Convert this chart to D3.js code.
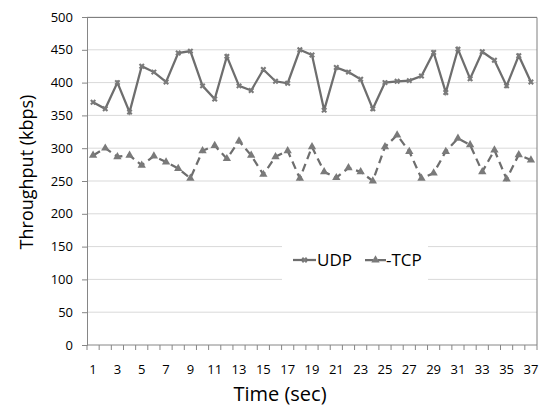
<!DOCTYPE html>
<html>
<head>
<meta charset="UTF-8">
<script src="https://d3js.org/d3.v7.min.js"></script>
<style>
  body { margin: 0; background: #fff; }
  text { font-family: "Open Sans", "Liberation Sans", sans-serif; fill: #000; }
</style>
</head>
<body>
<div id="chart"></div>
<script>
// data
const times = d3.range(1, 38);
const udp = [370, 360, 400, 355, 425, 416, 401, 445, 448, 395, 375, 440, 395, 388, 420, 402, 399, 450, 442,
             358, 423, 416, 405, 360, 400, 402, 403, 410, 446, 385, 451, 406, 447, 434, 395, 441, 401];
const tcp = [289, 300, 287, 289, 274, 288, 279, 269, 254, 296, 304, 284, 311, 289, 260, 287, 296, 254, 302,
             264, 255, 270, 264, 250, 302, 320, 295, 254, 262, 295, 315, 305, 264, 297, 253, 290, 282];
const yTicks = [0, 50, 100, 150, 200, 250, 300, 350, 400, 450, 500];

const width = 542, height = 406;
const margin = {top: 17, right: 5, bottom: 61, left: 87};
const iw = width - margin.left - margin.right;
const ih = height - margin.top - margin.bottom;

const svg = d3.select("#chart").append("svg")
    .attr("width", width).attr("height", height);

const g = svg.append("g").attr("transform", `translate(${margin.left},${margin.top})`);

const x = d3.scaleBand().domain(times).range([0, iw]);
const y = d3.scaleLinear().domain([0, 500]).range([ih, 0]);
const cx = d => x(d) + x.bandwidth() / 2;

// gridlines
g.append("g").selectAll("line").data(yTicks.slice(1)).enter().append("line")
    .attr("x1", 0).attr("x2", iw)
    .attr("y1", d => y(d)).attr("y2", d => y(d))
    .attr("stroke", "#d9d9d9").attr("stroke-width", 1);

// border top/right
g.append("path")
    .attr("d", `M0,0.5H${iw}V${ih}`)
    .attr("fill", "none").attr("stroke", "#7f7f7f").attr("stroke-width", 1);

// y axis
const yAxis = g.append("g")
    .call(d3.axisLeft(y).tickValues(yTicks).tickSize(5).tickPadding(9));
yAxis.select(".domain").attr("stroke", "#868686");
yAxis.selectAll(".tick line").attr("stroke", "#868686");
yAxis.selectAll("text").style("font-size", "13px").attr("fill", "#000");

// x axis, ticks between categories
const xAxis = g.append("g").attr("transform", `translate(0,${ih})`);
xAxis.append("line").attr("x1", 0).attr("x2", iw).attr("stroke", "#868686");
xAxis.selectAll(".tk").data(d3.range(0, times.length + 1)).enter().append("line")
    .attr("x1", i => i * x.step()).attr("x2", i => i * x.step())
    .attr("y1", 0).attr("y2", 5).attr("stroke", "#868686");
xAxis.selectAll(".lb").data(times.filter(t => t % 2 === 1)).enter().append("text")
    .attr("x", d => cx(d)).attr("y", 29)
    .attr("text-anchor", "middle").style("font-size", "13px")
    .text(d => d);

// lines
const lineColor = "#6e6e6e";
const line = d3.line().x((d, i) => cx(times[i])).y(d => y(d));

g.append("path").datum(udp).attr("d", line)
    .attr("fill", "none").attr("stroke", lineColor).attr("stroke-width", 2.25);
g.append("path").datum(tcp).attr("d", line)
    .attr("fill", "none").attr("stroke", lineColor).attr("stroke-width", 2.25)
    .attr("stroke-dasharray", "8,5");

const star = d3.symbol().type(d3.symbolCross).size(22);
const tri = d3.symbol().type(d3.symbolTriangle).size(30);

g.selectAll(".udpm").data(udp).enter().append("path")
    .attr("transform", (d, i) => `translate(${cx(times[i])},${y(d)}) rotate(45)`)
    .attr("d", star).attr("fill", "#7a7a7a");
g.selectAll(".tcpm").data(tcp).enter().append("path")
    .attr("transform", (d, i) => `translate(${cx(times[i])},${y(d)})`)
    .attr("d", tri).attr("fill", "#7a7a7a");

// legend
const lg = g.append("g").attr("transform", `translate(${282 - margin.left},${238 - margin.top})`);
lg.append("rect").attr("width", 146).attr("height", 46).attr("fill", "#fff");
lg.append("line").attr("x1", 11).attr("x2", 34).attr("y1", 22).attr("y2", 22)
    .attr("stroke", lineColor).attr("stroke-width", 2.25);
lg.append("path").attr("transform", "translate(22.5,22) rotate(45)").attr("d", star).attr("fill", "#7a7a7a");
lg.append("text").attr("x", 35).attr("y", 28).style("font-size", "17px").text("UDP");
lg.append("line").attr("x1", 83).attr("x2", 104).attr("y1", 22).attr("y2", 22)
    .attr("stroke", lineColor).attr("stroke-width", 2.25).attr("stroke-dasharray", "8,5");
lg.append("path").attr("transform", "translate(93.5,22)").attr("d", tri).attr("fill", "#7a7a7a");
lg.append("text").attr("x", 104).attr("y", 28).style("font-size", "17px").text("-TCP");

// axis titles
svg.append("text")
    .attr("transform", `translate(33,172) rotate(-90)`)
    .attr("text-anchor", "middle").style("font-size", "18px")
    .text("Throughput (kbps)");
svg.append("text")
    .attr("x", 280).attr("y", 401)
    .attr("text-anchor", "middle").style("font-size", "20px")
    .text("Time (sec)");
</script>
</body>
</html>
